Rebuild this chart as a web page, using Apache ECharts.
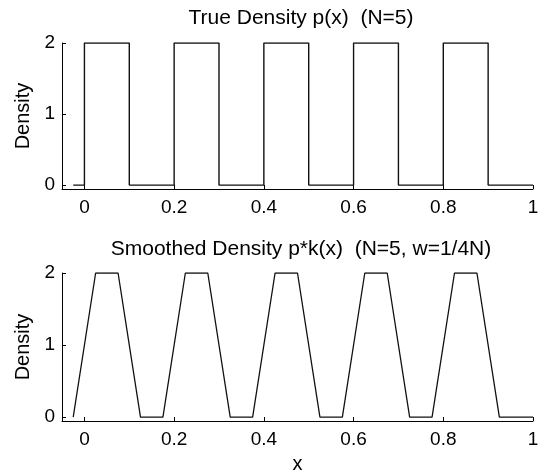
<!DOCTYPE html>
<html>
<head>
<meta charset="utf-8">
<script src="https://cdn.jsdelivr.net/npm/echarts@6/dist/echarts.min.js"></script>
<style>
  html, body { margin: 0; padding: 0; background: #fff; }
  #chart { width: 547px; height: 476px; }
</style>
</head>
<body>
<div id="chart"></div>
<script>
// 上图：真实密度（阶梯）
const trueX = [-0.025, 0, 0, 0.1, 0.1, 0.2, 0.2, 0.3, 0.3, 0.4, 0.4, 0.5, 0.5, 0.6, 0.6, 0.7, 0.7, 0.8, 0.8, 0.9, 0.9, 1.0];
const trueY = [0, 0, 2, 2, 0, 0, 2, 2, 0, 0, 2, 2, 0, 0, 2, 2, 0, 0, 2, 2, 0, 0];

// 下图：平滑密度（梯形）
const smoothX = [-0.025, 0.025, 0.075, 0.125, 0.175, 0.225, 0.275, 0.325, 0.375, 0.425, 0.475, 0.525, 0.575, 0.625, 0.675, 0.725, 0.775, 0.825, 0.875, 0.925, 1.0];
const smoothY = [0, 2, 2, 0, 0, 2, 2, 0, 0, 2, 2, 0, 0, 2, 2, 0, 0, 2, 2, 0, 0];

const xTicks = [0, 0.2, 0.4, 0.6, 0.8, 1];
const yTicks = [0, 1, 2];

const font = 'Liberation Sans, Arial, sans-serif';

function xAxisCfg(idx, name) {
    return {
        type: 'value', gridIndex: idx, min: -0.05, max: 1,
        name: name, nameLocation: 'middle', nameGap: 33,
        nameTextStyle: { color: '#000', fontSize: 20, fontFamily: font },
        axisLine: { onZero: false, lineStyle: { color: '#000', width: 1 } },
        axisTick: { show: true, inside: true, length: 4, customValues: xTicks, lineStyle: { color: '#000' } },
        axisLabel: { customValues: xTicks, color: '#000', fontSize: 19, fontFamily: font, margin: 9,
            formatter: v => String(v) },
        splitLine: { show: false }
    };
}

function yAxisCfg(idx) {
    return {
        type: 'value', gridIndex: idx, min: -0.055, max: 2,
        name: 'Density', nameLocation: 'middle', nameGap: 28, nameRotate: 90,
        nameTextStyle: { color: '#000', fontSize: 20, fontFamily: font },
        axisLine: { show: true, onZero: false, lineStyle: { color: '#000', width: 1 } },
        axisTick: { show: true, inside: true, length: 4, customValues: yTicks, lineStyle: { color: '#000' } },
        axisLabel: { customValues: yTicks, color: '#000', fontSize: 19, fontFamily: font, margin: 7 },
        splitLine: { show: false }
    };
}

const chart = echarts.init(document.getElementById('chart'));
chart.setOption({
    animation: false,
    backgroundColor: '#fff',
    title: [
        { text: 'True Density p(x)  (N=5)', left: 296, top: 3, textAlign: 'center',
          textStyle: { fontSize: 21, fontWeight: 'normal', color: '#000', fontFamily: font } },
        { text: 'Smoothed Density p*k(x)  (N=5, w=1/4N)', left: 296, top: 234, textAlign: 'center',
          textStyle: { fontSize: 21, fontWeight: 'normal', color: '#000', fontFamily: font } }
    ],
    grid: [
        { left: 62, top: 43, width: 471, height: 146 },
        { left: 62, top: 273, width: 471, height: 148 }
    ],
    xAxis: [xAxisCfg(0, ''), xAxisCfg(1, 'x')],
    yAxis: [yAxisCfg(0), yAxisCfg(1)],
    series: [
        { type: 'line', xAxisIndex: 0, yAxisIndex: 0, showSymbol: false,
          data: trueX.map((x, i) => [x, trueY[i]]),
          lineStyle: { color: '#111', width: 1.4 } },
        { type: 'line', xAxisIndex: 1, yAxisIndex: 1, showSymbol: false,
          data: smoothX.map((x, i) => [x, smoothY[i]]),
          lineStyle: { color: '#111', width: 1.3 } }
    ]
});
</script>
</body>
</html>
